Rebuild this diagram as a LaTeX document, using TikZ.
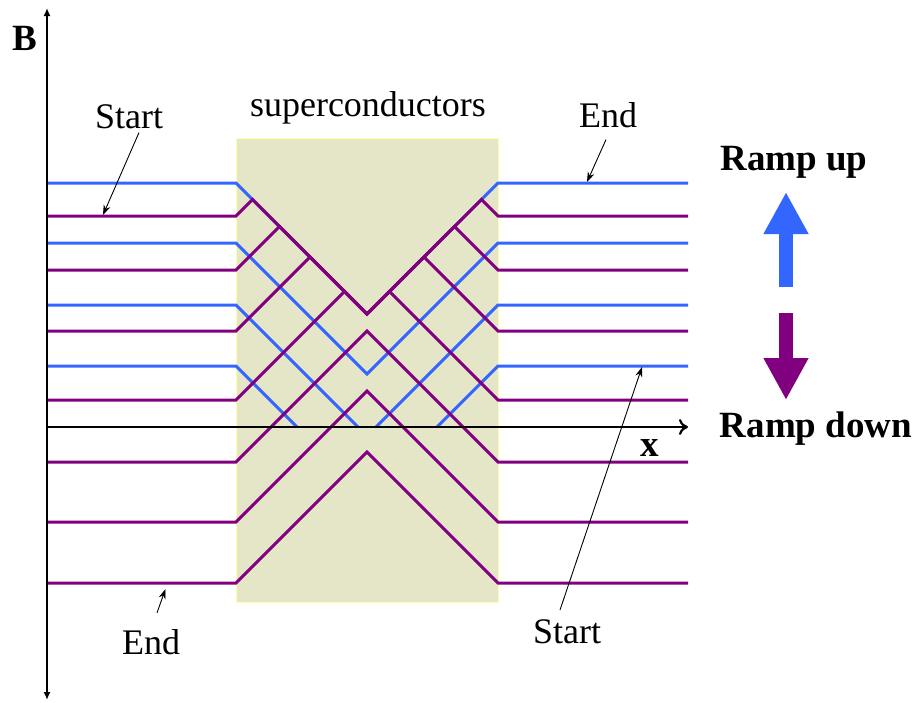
\documentclass[tikz,border=0pt]{standalone}
\usepackage{fontspec}
\setmainfont{Liberation Serif}
\usetikzlibrary{arrows.meta}
\definecolor{rampblue}{RGB}{51,102,255}
\definecolor{ramppurple}{RGB}{128,0,128}
\definecolor{scfill}{RGB}{229,230,200}
\definecolor{scedge}{RGB}{255,255,165}

\begin{document}
\begin{tikzpicture}[
  x=1pt, y=-1pt,
  txt/.style={font=\fontsize{36}{40}\selectfont, inner sep=0pt, anchor=base},
  btxt/.style={txt, font=\fontsize{37}{40}\selectfont\bfseries},
  up/.style={rampblue, line width=3pt},
  dn/.style={ramppurple, line width=3pt},
  ax/.style={black, line width=2.2pt},
  ptr/.style={black, line width=0.9pt, -{Stealth[length=10pt,width=7pt]}},
  fat/.style={line width=14pt, -{Triangle[length=42pt,width=42pt]}}
]
\useasboundingbox (0,0) rectangle (915,702);

% ---------------- superconductor slab ----------------
\draw[fill=scfill, draw=scedge, line width=1pt] (236,138) rectangle (498,602);
\node[txt] (sc) at (368,116) {superconductors};

% ---------------- ramp up (blue) ----------------
\draw[up] (47,183) -- (236,183) -- (367,314) -- (498,183) -- (688,183);
\draw[up] (47,243) -- (236,243) -- (367,374) -- (498,243) -- (688,243);
\draw[up] (47,305) -- (236,305) -- (358,427);
\draw[up] (376,427) -- (498,305) -- (688,305);
\draw[up] (47,366) -- (236,366) -- (297,427);
\draw[up] (437,427) -- (498,366) -- (688,366);

% ---------------- ramp down (purple) ----------------
\draw[dn] (47,216) -- (236,216) -- (252.5,199.5) -- (367,314) -- (481.5,199.5) -- (498,216) -- (688,216);
\draw[dn] (47,270) -- (236,270) -- (279.5,226.5) -- (367,314) -- (454.5,226.5) -- (498,270) -- (688,270);
\draw[dn] (47,331) -- (236,331) -- (310,257) -- (367,314) -- (424,257) -- (498,331) -- (688,331);
\draw[dn] (47,400) -- (236,400) -- (344.5,291.5) -- (367,314) -- (389.5,291.5) -- (498,400) -- (688,400);
\draw[dn] (47,462) -- (236,462) -- (367,331) -- (498,462) -- (688,462);
\draw[dn] (47,522) -- (236,522) -- (367,391) -- (498,522) -- (688,522);
\draw[dn] (47,583) -- (236,583) -- (367,452) -- (498,583) -- (688,583);

% ---------------- axes ----------------
\coordinate (o) at (47,427);
\coordinate (btop) at (47,8);
\coordinate (bbot) at (47,700);
\coordinate (xend) at (688,427);
\draw[ax, {Latex[length=8pt,width=7pt]}-{Latex[length=8pt,width=7pt]}] (bbot) -- (btop);
\draw[ax, -{To[length=9pt,width=16pt]}] (o) -- (xend);
\node[btxt] (bl) at (25,50) {B};
\node[btxt] (xl) at (650,456) {x};

% ---------------- start / end labels ----------------
\node[txt] (st1) at (129,128) {Start};
\coordinate (st1e) at (103,215);
\draw[ptr] ([xshift=10pt,yshift=-4pt]st1.south) -- (st1e);

\node[txt] (en1) at (608,127) {End};
\coordinate (en1e) at (587,182);
\draw[ptr] ([xshift=-2pt,yshift=-12pt]en1.south) -- (en1e);

\node[txt] (st2) at (567,643) {Start};
\coordinate (st2e) at (642,367);
\draw[ptr] ([xshift=-7pt,yshift=9pt]st2.north) -- (st2e);

\node[txt] (en2) at (151,654) {End};
\coordinate (en2e) at (165.5,589);
\draw[ptr] ([xshift=6pt,yshift=16pt]en2.north) -- (en2e);

% ---------------- ramp arrows ----------------
\coordinate (ua) at (786,287);
\coordinate (ub) at (786,192);
\coordinate (da) at (786,313);
\coordinate (db) at (786,400);
\draw[fat, rampblue] (ua) -- (ub);
\draw[fat, ramppurple] (da) -- (db);
\node[btxt] (rup) at (794,170) {Ramp up};
\node[btxt] (rdn) at (816,437) {Ramp down};
\end{tikzpicture}
\end{document}
